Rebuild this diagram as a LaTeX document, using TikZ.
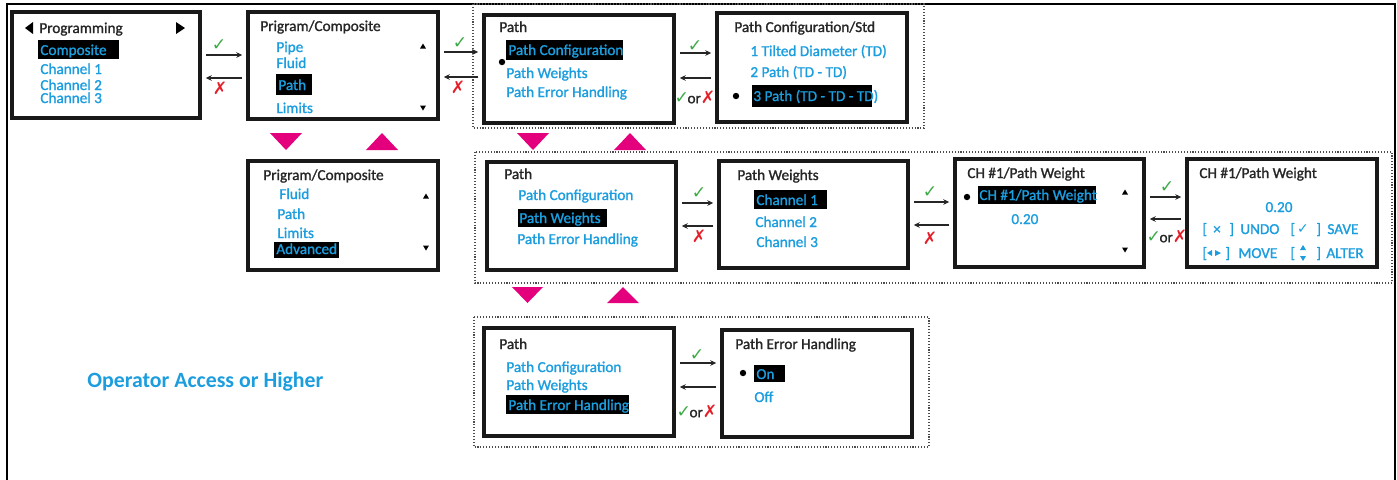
\documentclass[tikz,border=0pt]{standalone}
\usepackage{fontspec}
\setmainfont{Carlito}
\newfontfamily\heavy{Carlito}[FakeBold=1.3]
\newfontfamily\sym{DejaVu Sans}
\usetikzlibrary{arrows.meta,fit}
\definecolor{lcd}{RGB}{27,157,222}
\definecolor{mag}{RGB}{228,0,124}
\definecolor{okg}{RGB}{60,170,70}
\definecolor{nor}{RGB}{228,30,40}
\newcommand{\okm}{{\sym\color{okg}✓}}
\newcommand{\nom}{{\sym\color{nor}✗}}
\begin{document}
\begin{tikzpicture}[x=0.5pt,y=-0.5pt,
  font=\heavy\fontsize{7.6}{9}\selectfont,
  screen/.style={draw=black!90,line width=1.75pt,inner sep=0pt},
  grp/.style={draw=black!70,line width=0.55pt,dash pattern=on 0.55pt off 0.9pt},
  ttl/.style={anchor=west,inner sep=0pt,text height=5pt,text depth=0pt,text=black!85},
  itm/.style={ttl,text=lcd},
  hlbar/.style={fill=black},
  arr/.style={-{Stealth[length=3pt,width=2.8pt]},line width=0.7pt,draw=black!85,shorten <=2pt,shorten >=2pt},
  tri/.style={fill=mag},
  mk/.style={inner sep=0pt,font=\sym\fontsize{8.6}{10}\selectfont},
  ormk/.style={inner sep=0pt,text=black!85},
  dot/.style={fill=black}
]
\useasboundingbox (0,0) rectangle (1397,479);
% outer frame
\draw[line width=1.4pt] (7,481) -- (7,4) -- (1395,4) -- (1395,481);

% dotted groups
\draw[grp] (473,4) rectangle (924,128);
\draw[grp] (475,152) rectangle (1392,283);
\draw[grp] (474,317) rectangle (929,447);

% row coordinates
\coordinate (ra) at (0,55);  \coordinate (rb) at (0,78);
\coordinate (rc) at (0,52);  \coordinate (rd) at (0,77);
\coordinate (re) at (0,53);  \coordinate (rf) at (0,78);
\coordinate (rg) at (0,203); \coordinate (rh) at (0,226);
\coordinate (ri) at (0,202); \coordinate (rj) at (0,225);
\coordinate (rk) at (0,197); \coordinate (rl) at (0,219);
\coordinate (rm) at (0,363); \coordinate (rn) at (0,387);

% screens
\node[screen,fit={(12,12)(200,118)}] (s1) {};
\node[screen,fit={(248,12)(438,119)}] (s2) {};
\node[screen,fit={(484,15)(674,123)}] (s3) {};
\node[screen,fit={(717,13)(907,122)}] (s4) {};
\node[screen,fit={(248,161)(438,270)}] (s5) {};
\node[screen,fit={(487,162)(676,270)}] (s6) {};
\node[screen,fit={(719,161)(908,268)}] (s7) {};
\node[screen,fit={(955,159)(1144,267)}] (s8) {};
\node[screen,fit={(1187,159)(1377,267)}] (s9) {};
\node[screen,fit={(484,328)(674,436)}] (s10) {};
\node[screen,fit={(722,330)(912,437)}] (s11) {};

% ---- screen 1
\fill (33,22) -- (33,34) -- (25,28) -- cycle;
\fill (176,22) -- (176,34) -- (185,28) -- cycle;
\node[ttl] (t1) at (39,28) {Programming};
\fill[hlbar] (38,40) rectangle (119,59);
\node[itm] (t1a) at (40,50) {Composite};
\node[itm] (t1b) at (40,69) {Channel 1};
\node[itm] (t1c) at (40,85) {Channel 2};
\node[itm] (t1d) at (40,98) {Channel 3};

% ---- screen 2
\node[ttl] (t2) at (260,26) {Prigram/Composite};
\node[itm] (t2a) at (276,47) {Pipe};
\node[itm] (t2b) at (276,63) {Fluid};
\fill[hlbar] (276,74) rectangle (312,95);
\node[itm] (t2c) at (278,85) {Path};
\node[itm] (t2d) at (276,108) {Limits};
\fill (420,48.5) -- (426,48.5) -- (423,43.5) -- cycle;
\fill (420,105.5) -- (426,105.5) -- (423,110.5) -- cycle;

% ---- screen 3
\node[ttl] (t3) at (499,27) {Path};
\fill[hlbar] (506,40) rectangle (623,60);
\node[itm] (t3a) at (508,50) {Path Configuration};
\fill[dot] (502,62) circle[radius=1.6pt];
\node[itm] (t3b) at (506,73) {Path Weights};
\node[itm] (t3c) at (506,92) {Path Error Handling};

% ---- screen 4
\node[ttl] (t4) at (734,27) {Path Configuration/Std};
\node[itm] (t4a) at (750,51) {1 Tilted Diameter (TD)};
\node[itm] (t4b) at (750,72) {2 Path (TD - TD)};
\fill[hlbar] (752,85) rectangle (872,107);
\node[itm] (t4c) at (753,96) {3 Path (TD - TD - TD)};
\fill[dot] (736,96) circle[radius=1.6pt];

% ---- screen 5
\node[ttl] (t5) at (263,175) {Prigram/Composite};
\node[itm] (t5a) at (279,194) {Fluid};
\node[itm] (t5b) at (277,214) {Path};
\node[itm] (t5c) at (277,233) {Limits};
\fill[hlbar] (274,242) rectangle (339,258);
\node[itm] (t5d) at (276,249) {Advanced};
\fill (423,198.5) -- (429,198.5) -- (426,193.5) -- cycle;
\fill (423,245.5) -- (429,245.5) -- (426,250.5) -- cycle;

% ---- screen 6
\node[ttl] (t6) at (504,174) {Path};
\node[itm] (t6a) at (518,195) {Path Configuration};
\fill[hlbar] (518,209) rectangle (607,227);
\node[itm] (t6b) at (519,218) {Path Weights};
\node[itm] (t6c) at (517,239) {Path Error Handling};

% ---- screen 7
\node[ttl] (t7) at (737,175) {Path Weights};
\fill[hlbar] (754,190) rectangle (827,209);
\node[itm] (t7a) at (756,200) {Channel 1};
\node[itm] (t7b) at (755,222) {Channel 2};
\node[itm] (t7c) at (756,242) {Channel 3};

% ---- screen 8
\node[ttl] (t8) at (967,173) {CH \#1/Path Weight};
\fill[dot] (967,197) circle[radius=1.6pt];
\fill[hlbar] (978,186) rectangle (1096,204);
\node[itm] (t8a) at (979,195) {CH \#1/Path Weight};
\node[itm] (t8b) at (1011,219) {0.20};
\fill (1122,194.5) -- (1128,194.5) -- (1125,189.5) -- cycle;
\fill (1122,247.5) -- (1128,247.5) -- (1125,252.5) -- cycle;

% ---- screen 9
\node[ttl] (t9) at (1199,173) {CH \#1/Path Weight};
\node[itm,anchor=center] (t9a) at (1279,207) {0.20};
\node[itm] (u1) at (1202,229) {[};
\node[itm,anchor=center] (u2) at (1217,229) {×};
\node[itm] (u3) at (1229,229) {]};
\node[itm] (u4) at (1240,229) {UNDO};
\node[itm] (v1) at (1290,229) {[};
\node[itm,anchor=center,font=\sym\fontsize{7}{8}\selectfont] (v2) at (1303,228) {✓};
\node[itm] (v3) at (1316,229) {]};
\node[itm] (v4) at (1327,229) {SAVE};
\node[itm] (w1) at (1202,253) {[};
\fill[lcd] (1212,250) -- (1212,256) -- (1207,253) -- cycle;
\fill[lcd] (1215,250) -- (1215,256) -- (1221,253) -- cycle;
\node[itm] (w3) at (1225,253) {]};
\node[itm] (w4) at (1238,253) {MOVE};
\node[itm] (x1) at (1290,253) {[};
\fill[lcd] (1300,250) -- (1306,250) -- (1303,245) -- cycle;
\fill[lcd] (1300,256) -- (1306,256) -- (1303,261) -- cycle;
\node[itm] (x3) at (1316,253) {]};
\node[itm] (x4) at (1326,253) {ALTER};

% ---- screen 10
\node[ttl] (t10) at (499,344) {Path};
\node[itm] (t10a) at (506,367) {Path Configuration};
\node[itm] (t10b) at (506,385) {Path Weights};
\fill[hlbar] (506,395) rectangle (629,414);
\node[itm] (t10c) at (508,405) {Path Error Handling};

% ---- screen 11
\node[ttl] (t11) at (735,344) {Path Error Handling};
\fill[dot] (743,373) circle[radius=1.6pt];
\fill[hlbar] (754,365) rectangle (785,382);
\node[itm] (t11a) at (756,374) {On};
\node[itm] (t11b) at (754,397) {Off};

% ---- connectors
\draw[arr] (s1.east |- ra) -- (s2.west |- ra);
\draw[arr] (s2.west |- rb) -- (s1.east |- rb);
\draw[arr] (s2.east |- rc) -- (s3.west |- rc);
\draw[arr] (s3.west |- rd) -- (s2.east |- rd);
\draw[arr] (s3.east |- re) -- (s4.west |- re);
\draw[arr] (s4.west |- rf) -- (s3.east |- rf);
\draw[arr] (s6.east |- rg) -- (s7.west |- rg);
\draw[arr] (s7.west |- rh) -- (s6.east |- rh);
\draw[arr] (s7.east |- ri) -- (s8.west |- ri);
\draw[arr] (s8.west |- rj) -- (s7.east |- rj);
\draw[arr] (s8.east |- rk) -- (s9.west |- rk);
\draw[arr] (s9.west |- rl) -- (s8.east |- rl);
\draw[arr] (s10.east |- rm) -- (s11.west |- rm);
\draw[arr] (s11.west |- rn) -- (s10.east |- rn);

% ---- connector labels
\node[mk] (k1) at (219,45) {\okm};
\node[mk] (k2) at (220,88) {\nom};
\node[mk] (k3) at (460,43) {\okm};
\node[mk] (k4) at (458,87) {\nom};
\node[mk] (k5) at (695,46) {\okm};
\node[ormk] (k6) at (695,97) {{\sym\fontsize{8.6}{10}\selectfont\okm}\kern-0.8pt or{\sym\fontsize{8.6}{10}\selectfont\nom}};
\node[mk] (k7) at (699,193) {\okm};
\node[mk] (k8) at (699,236) {\nom};
\node[mk] (k9) at (930,192) {\okm};
\node[mk] (k10) at (930,238) {\nom};
\node[mk] (k11) at (1167,187) {\okm};
\node[ormk] (k12) at (1167,236) {{\sym\fontsize{8.6}{10}\selectfont\okm}\kern-0.8pt or{\sym\fontsize{8.6}{10}\selectfont\nom}};
\node[mk] (k13) at (697,355) {\okm};
\node[ormk] (k14) at (697,411) {{\sym\fontsize{8.6}{10}\selectfont\okm}\kern-0.8pt or{\sym\fontsize{8.6}{10}\selectfont\nom}};

% ---- magenta navigation triangles
\fill[tri] (270,133) -- (302,133) -- (286,150) -- cycle;
\fill[tri] (366,150) -- (398,150) -- (382,133) -- cycle;
\fill[tri] (517,133) -- (549,133) -- (533,150) -- cycle;
\fill[tri] (614,150) -- (646,150) -- (630,133) -- cycle;
\fill[tri] (512,287) -- (543,287) -- (527.5,303) -- cycle;
\fill[tri] (607,303) -- (639,303) -- (623,287) -- cycle;

% ---- access note
\node[anchor=west,inner sep=0pt,text=lcd,font=\rmfamily\bfseries\fontsize{10.9}{13}\selectfont] (op) at (87,382) {Operator Access or Higher};
\end{tikzpicture}
\end{document}
